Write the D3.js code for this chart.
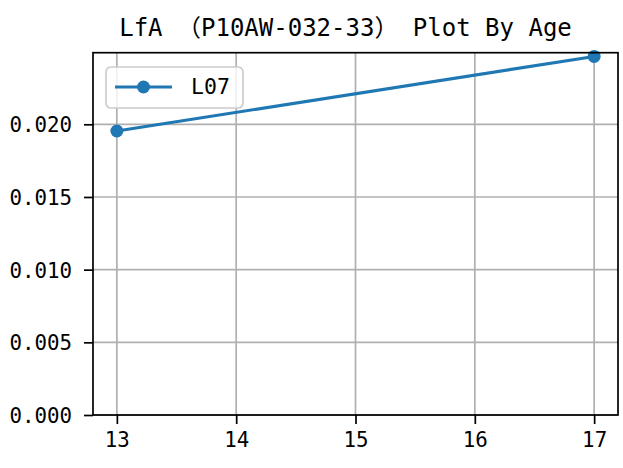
<!DOCTYPE html>
<html>
<head>
<meta charset="utf-8">
<script src="https://cdn.jsdelivr.net/npm/d3@7"></script>
<style>
  body { margin: 0; background: #fff; }
  text { font-family: "DejaVu Sans Mono", "Noto Sans CJK SC", monospace; fill: #000; }
</style>
</head>
<body>
<script>
// data
var ages = [13, 17];
var values = [0.01954, 0.02467];
var xTicks = [13, 14, 15, 16, 17];
var yTicks = [0, 0.005, 0.010, 0.015, 0.020];
var seriesName = "L07";
var title = "LfA （P10AW-032-33） Plot By Age";

window.onload = drawChart();

function drawChart(){
    var width = 623,
        height = 468;

    var left = 93, right = 618, top = 52.7, bottom = 415;

    var svg = d3.select("body")
        .append("svg")
        .attr("width", width)
        .attr("height", height);

    // matplotlib style auto margins (5%) on x, bottom pinned to 0 on y
    var xSpan = d3.max(ages) - d3.min(ages);
    var ySpan = d3.max(values) - d3.min(values);
    var x = d3.scaleLinear()
        .domain([d3.min(ages) - 0.05 * xSpan, d3.max(ages) + 0.05 * xSpan])
        .range([left, right]);
    var y = d3.scaleLinear()
        .domain([0, d3.max(values) + 0.05 * ySpan])
        .range([bottom, top]);

    //grid lines
    svg.append("g").selectAll("line.vgrid")
        .data(xTicks).enter().append("line")
        .attr("x1", function(d){ return x(d); })
        .attr("x2", function(d){ return x(d); })
        .attr("y1", top).attr("y2", bottom)
        .attr("stroke", "#b0b0b0").attr("stroke-width", 1.7);
    svg.append("g").selectAll("line.hgrid")
        .data(yTicks).enter().append("line")
        .attr("y1", function(d){ return y(d); })
        .attr("y2", function(d){ return y(d); })
        .attr("x1", left).attr("x2", right)
        .attr("stroke", "#b0b0b0").attr("stroke-width", 1.7);

    //axes
    var xAxis = svg.append("g")
        .attr("transform", "translate(0," + bottom + ")")
        .call(d3.axisBottom(x).tickValues(xTicks).tickFormat(d3.format("d")).tickSize(9).tickPadding(7));
    var yAxis = svg.append("g")
        .attr("transform", "translate(" + left + ",0)")
        .call(d3.axisLeft(y).tickValues(yTicks).tickFormat(d3.format(".3f")).tickSize(9).tickPadding(12));

    [xAxis, yAxis].forEach(function(a){
        a.select(".domain").remove();
        a.selectAll(".tick line").attr("stroke", "#000").attr("stroke-width", 1.7);
        a.selectAll(".tick text").style("font-size", "20.8px").attr("fill", "#000");
    });
    yAxis.selectAll(".tick text").attr("dy", "0.36em");
    xAxis.selectAll(".tick text").attr("dy", "0.76em");

    //line and markers
    var pts = ages.map(function(a, i){ return [a, values[i]]; });
    var line = d3.line()
        .x(function(d){ return x(d[0]); })
        .y(function(d){ return y(d[1]); });

    svg.append("path")
        .datum(pts)
        .attr("d", line)
        .attr("fill", "none")
        .attr("stroke", "#1f77b4")
        .attr("stroke-width", 3.1);

    svg.selectAll("circle.pt")
        .data(pts).enter().append("circle")
        .attr("cx", function(d){ return x(d[0]); })
        .attr("cy", function(d){ return y(d[1]); })
        .attr("r", 6.5)
        .attr("fill", "#1f77b4");

    //frame
    svg.append("rect")
        .attr("x", left).attr("y", top)
        .attr("width", right - left).attr("height", bottom - top)
        .attr("fill", "none")
        .attr("stroke", "#000")
        .attr("stroke-width", 1.7);

    //legend
    var lg = svg.append("g");
    lg.append("rect")
        .attr("x", 106).attr("y", 67)
        .attr("width", 137).attr("height", 41)
        .attr("rx", 5)
        .attr("fill", "#fff").attr("fill-opacity", 0.8)
        .attr("stroke", "#cccccc").attr("stroke-width", 1.7);
    lg.append("line")
        .attr("x1", 115).attr("x2", 172)
        .attr("y1", 87).attr("y2", 87)
        .attr("stroke", "#1f77b4").attr("stroke-width", 3.1);
    lg.append("circle")
        .attr("cx", 143.5).attr("cy", 87).attr("r", 6.5)
        .attr("fill", "#1f77b4");
    lg.append("text")
        .attr("x", 191).attr("y", 94)
        .style("font-size", "21.5px")
        .text(seriesName);

    //title (matplotlib's centring of this string sits a bit left of the axes centre)
    svg.append("text")
        .attr("x", (left + right) / 2 - 10)
        .attr("y", 35.5)
        .attr("text-anchor", "middle")
        .style("font-size", "24px")
        .text(title);
}
</script>
</body>
</html>
